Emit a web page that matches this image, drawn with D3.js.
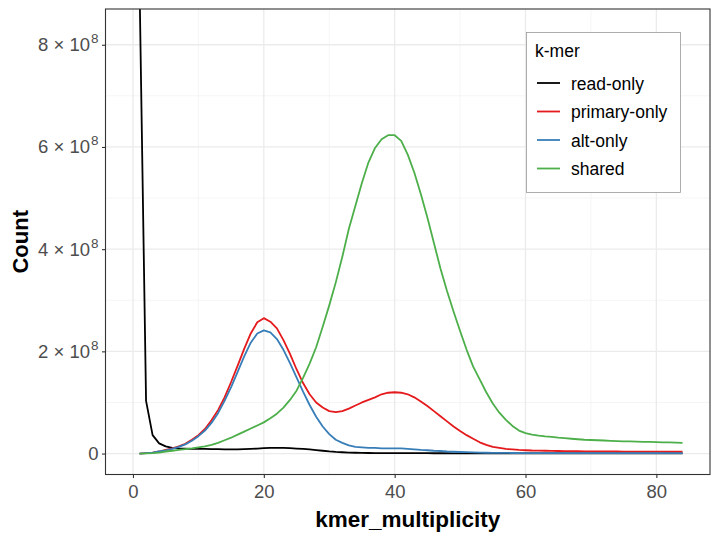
<!DOCTYPE html>
<html>
<head>
<meta charset="utf-8">
<script src="https://cdn.jsdelivr.net/npm/d3@7"></script>
<style>
  body { margin: 0; background: #fff; }
  text { font-family: "Liberation Sans", Arial, sans-serif; }
</style>
</head>
<body>
<div id="chart"></div>
<script>
// k-mer multiplicity values (x) and counts per category, in units of 1e8
var multiplicity = d3.range(1, 85);

var readOnly = [9.2, 1.03, 0.36, 0.2, 0.14, 0.11, 0.1, 0.095, 0.09, 0.09,
  0.09, 0.088, 0.085, 0.083, 0.082, 0.082, 0.085, 0.09, 0.097, 0.105,
  0.11, 0.112, 0.11, 0.105, 0.098, 0.09, 0.08, 0.068, 0.055, 0.042,
  0.032, 0.025, 0.02, 0.016, 0.013, 0.011, 0.01, 0.01, 0.01, 0.009,
  0.009, 0.008, 0.008, 0.007, 0.007, 0.006, 0.006, 0.006, 0.005, 0.005,
  0.005, 0.005, 0.004, 0.004, 0.004, 0.004, 0.004, 0.004, 0.003, 0.003,
  0.003, 0.003, 0.003, 0.003, 0.003, 0.003, 0.003, 0.003, 0.003, 0.003,
  0.003, 0.003, 0.003, 0.003, 0.003, 0.003, 0.003, 0.003, 0.003, 0.003,
  0.003, 0.003, 0.003, 0.003];

var primaryOnly = [0, 0.01, 0.02, 0.04, 0.07, 0.1, 0.14, 0.19, 0.27, 0.36,
  0.48, 0.65, 0.85, 1.1, 1.4, 1.72, 2.05, 2.35, 2.57, 2.65,
  2.58, 2.45, 2.22, 1.95, 1.65, 1.38, 1.16, 1.0, 0.9, 0.83,
  0.81, 0.83, 0.88, 0.94, 1.0, 1.05, 1.1, 1.16, 1.19, 1.2,
  1.19, 1.16, 1.1, 1.02, 0.93, 0.83, 0.73, 0.63, 0.53, 0.44,
  0.36, 0.29, 0.22, 0.17, 0.13, 0.11, 0.09, 0.08, 0.07, 0.065,
  0.06, 0.058, 0.055, 0.052, 0.05, 0.048, 0.046, 0.045, 0.044, 0.043,
  0.042, 0.041, 0.04, 0.04, 0.039, 0.038, 0.038, 0.037, 0.037, 0.036,
  0.036, 0.035, 0.035, 0.035];

var altOnly = [0, 0.01, 0.02, 0.04, 0.06, 0.09, 0.13, 0.18, 0.25, 0.34,
  0.45, 0.6, 0.79, 1.03, 1.3, 1.6, 1.9, 2.17, 2.35, 2.41,
  2.37, 2.24, 2.03, 1.77, 1.49, 1.21, 0.95, 0.72, 0.53, 0.38,
  0.27, 0.21, 0.16, 0.13, 0.12, 0.11, 0.11, 0.1, 0.1, 0.1,
  0.1, 0.09, 0.08, 0.07, 0.065, 0.055, 0.05, 0.04, 0.035, 0.03,
  0.026, 0.022, 0.019, 0.016, 0.014, 0.013, 0.012, 0.011, 0.01, 0.01,
  0.009, 0.009, 0.009, 0.008, 0.008, 0.008, 0.008, 0.008, 0.008, 0.008,
  0.008, 0.008, 0.008, 0.008, 0.008, 0.008, 0.008, 0.008, 0.008, 0.008,
  0.008, 0.008, 0.008, 0.008];

var shared = [0, 0.005, 0.01, 0.02, 0.04, 0.055, 0.07, 0.085, 0.1, 0.12,
  0.14, 0.17, 0.21, 0.26, 0.31, 0.37, 0.43, 0.49, 0.55, 0.61,
  0.69, 0.78, 0.9, 1.05, 1.23, 1.48, 1.76, 2.08, 2.48, 2.9,
  3.35, 3.85, 4.4, 4.85, 5.3, 5.7, 5.98, 6.15, 6.23, 6.23,
  6.12, 5.85, 5.5, 5.08, 4.62, 4.12, 3.62, 3.18, 2.78, 2.4,
  2.03, 1.7, 1.45, 1.2, 0.98, 0.8, 0.66, 0.54, 0.45, 0.4,
  0.37, 0.35, 0.335, 0.325, 0.31, 0.3, 0.29, 0.28, 0.27, 0.265,
  0.26, 0.255, 0.25, 0.245, 0.24, 0.24, 0.235, 0.23, 0.23, 0.225,
  0.22, 0.22, 0.215, 0.21];

var seriesNames = ["read-only", "primary-only", "alt-only", "shared"];
var seriesValues = [readOnly, primaryOnly, altOnly, shared];
var seriesColors = ["#000000", "#E41A1C", "#377EB8", "#4DAF4A"];

var xTicks = [0, 20, 40, 60, 80];
var yTicks = [0, 2, 4, 6, 8];   // x 1e8

var width = 719, height = 539;
var panel = { left: 105.5, right: 710, top: 9, bottom: 474.5 };

var svg = d3.select("#chart").append("svg")
  .attr("width", width)
  .attr("height", height);

var x = d3.scaleLinear().domain([-4.2, 88.2]).range([panel.left, panel.right]);
var y = d3.scaleLinear().domain([-0.41, 8.7]).range([panel.bottom, panel.top]);

// grid
var grid = svg.append("g");
[10, 30, 50, 70].forEach(function(v) {
  grid.append("line").attr("x1", x(v)).attr("x2", x(v))
    .attr("y1", panel.top).attr("y2", panel.bottom)
    .attr("stroke", "#F2F2F2").attr("stroke-width", 0.8);
});
[1, 3, 5, 7].forEach(function(v) {
  grid.append("line").attr("y1", y(v)).attr("y2", y(v))
    .attr("x1", panel.left).attr("x2", panel.right)
    .attr("stroke", "#F2F2F2").attr("stroke-width", 0.8);
});
xTicks.forEach(function(v) {
  grid.append("line").attr("x1", x(v)).attr("x2", x(v))
    .attr("y1", panel.top).attr("y2", panel.bottom)
    .attr("stroke", "#EBEBEB").attr("stroke-width", 1.3);
});
yTicks.forEach(function(v) {
  grid.append("line").attr("y1", y(v)).attr("y2", y(v))
    .attr("x1", panel.left).attr("x2", panel.right)
    .attr("stroke", "#EBEBEB").attr("stroke-width", 1.3);
});

// lines
svg.append("clipPath").attr("id", "clip").append("rect")
  .attr("x", panel.left).attr("y", panel.top)
  .attr("width", panel.right - panel.left).attr("height", panel.bottom - panel.top);

var line = d3.line()
  .x(function(d, i) { return x(multiplicity[i]); })
  .y(function(d) { return y(d); });

svg.append("g").attr("clip-path", "url(#clip)")
  .selectAll("path")
  .data(seriesValues)
  .enter().append("path")
  .attr("d", line)
  .attr("fill", "none")
  .attr("stroke", function(d, i) { return seriesColors[i]; })
  .attr("stroke-width", 1.8)
  .attr("stroke-linejoin", "round");

// panel border
svg.append("rect")
  .attr("x", panel.left).attr("y", panel.top)
  .attr("width", panel.right - panel.left).attr("height", panel.bottom - panel.top)
  .attr("fill", "none").attr("stroke", "#333333").attr("stroke-width", 1.1);

// x axis
var xAxis = d3.axisBottom(x).tickValues(xTicks).tickSize(3.5).tickPadding(7);
var gx = svg.append("g").attr("transform", "translate(0," + panel.bottom + ")").call(xAxis);
gx.select(".domain").remove();
gx.selectAll("line").attr("stroke", "#333333").attr("stroke-width", 1.1);
gx.selectAll("text").attr("fill", "#4D4D4D").style("font-size", "18.5px")
  .style("font-family", "'Liberation Sans', Arial, sans-serif");

// y axis with superscript labels
var yAxis = d3.axisLeft(y).tickValues(yTicks).tickSize(3.5).tickFormat(function() { return ""; });
var gy = svg.append("g").attr("transform", "translate(" + panel.left + ",0)").call(yAxis);
gy.select(".domain").remove();
gy.selectAll("line").attr("stroke", "#333333").attr("stroke-width", 1.1);

yTicks.forEach(function(v) {
  var t = svg.append("text")
    .attr("x", panel.left - 7)
    .attr("y", y(v) + 6.5)
    .attr("text-anchor", "end")
    .attr("fill", "#4D4D4D")
    .style("font-size", "18.5px");
  if (v === 0) {
    t.text("0");
  } else {
    t.append("tspan").text(v + " \u00D7 10");
    t.append("tspan").attr("dy", -8).attr("dx", 1).style("font-size", "13.5px").text("8");
  }
});

// axis titles
svg.append("text")
  .attr("x", (panel.left + panel.right) / 2)
  .attr("y", 527)
  .attr("text-anchor", "middle")
  .style("font-size", "22.5px").style("font-weight", "bold")
  .text("kmer_multiplicity");

svg.append("text")
  .attr("transform", "translate(28," + ((panel.top + panel.bottom) / 2) + ") rotate(-90)")
  .attr("text-anchor", "middle")
  .style("font-size", "22px").style("font-weight", "bold")
  .text("Count");

// legend
var legend = svg.append("g").attr("transform", "translate(526,32)");
legend.append("rect")
  .attr("x", 0.5).attr("y", 0.5).attr("width", 154).attr("height", 160)
  .attr("fill", "#fff").attr("stroke", "#999999").attr("stroke-width", 0.8);
legend.append("text").attr("x", 9).attr("y", 25)
  .style("font-size", "17.5px").attr("fill", "#000").text("k-mer");

var items = legend.selectAll(".item")
  .data(seriesNames)
  .enter().append("g")
  .attr("transform", function(d, i) { return "translate(0," + (51 + i * 28.5) + ")"; });
items.append("line")
  .attr("x1", 11).attr("x2", 34)
  .attr("stroke", function(d, i) { return seriesColors[i]; })
  .attr("stroke-width", 1.8);
items.append("text")
  .attr("x", 45).attr("y", 6.5)
  .style("font-size", "17.5px").attr("fill", "#000")
  .text(function(d) { return d; });
</script>
</body>
</html>
